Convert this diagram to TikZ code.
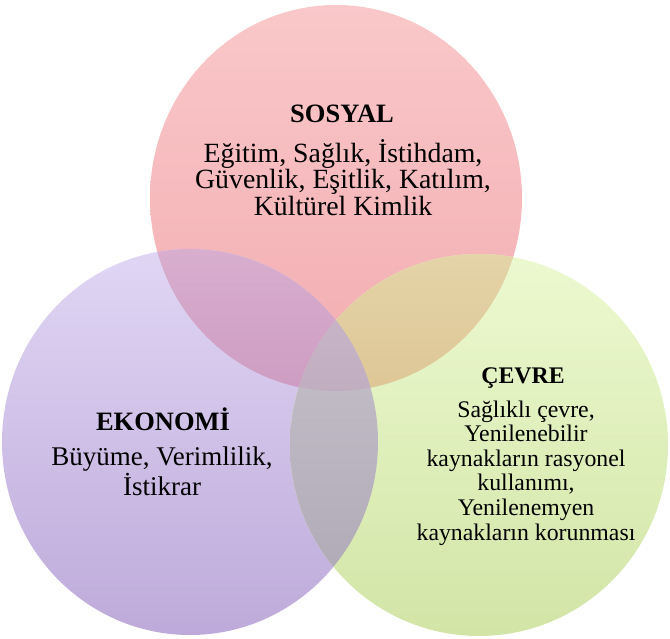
\documentclass[tikz,border=0pt]{standalone}
\usepackage{fontspec}
\setmainfont{Liberation Serif}
\definecolor{pinkTop}{RGB}{250,200,202}
\definecolor{pinkBot}{RGB}{242,172,176}
\definecolor{purpTop}{RGB}{224,214,244}
\definecolor{purpBot}{RGB}{190,170,218}
\definecolor{grnTop}{RGB}{236,249,208}
\definecolor{grnBot}{RGB}{210,229,166}
\definecolor{puTop}{RGB}{216,174,206}
\definecolor{puBot}{RGB}{206,156,194}
\definecolor{pgTop}{RGB}{228,212,168}
\definecolor{pgBot}{RGB}{222,198,150}
\definecolor{ugTop}{RGB}{200,194,204}
\definecolor{ugBot}{RGB}{172,166,180}
\definecolor{tTop}{RGB}{202,182,200}
\definecolor{tBot}{RGB}{192,174,192}
\def\pinkC{(336,198) ellipse [x radius=186, y radius=193]}
\def\purpC{(190,442) ellipse [x radius=188, y radius=193]}
\def\grnC{(479,445) ellipse [x radius=189, y radius=191]}
\begin{document}
\begin{tikzpicture}[x=1pt,y=-1pt,
  title/.style={font=\fontsize{26.5}{25}\selectfont\bfseries, anchor=base, inner sep=0pt},
  body/.style={anchor=base, align=center, inner sep=0pt}]
\useasboundingbox (0,0) rectangle (670,638);
\shade[top color=pinkTop, bottom color=pinkBot] \pinkC;
\shade[top color=purpTop, bottom color=purpBot] \purpC;
\shade[top color=grnTop, bottom color=grnBot] \grnC;
\begin{scope}
  \clip \pinkC;
  \clip \purpC;
  \shade[top color=puTop, bottom color=puBot] (0,248) rectangle (390,393);
\end{scope}
\begin{scope}
  \clip \pinkC;
  \clip \grnC;
  \shade[top color=pgTop, bottom color=pgBot] (285,252) rectangle (530,393);
\end{scope}
\begin{scope}
  \clip \purpC;
  \clip \grnC;
  \shade[top color=ugTop, bottom color=ugBot] (285,290) rectangle (385,637);
\end{scope}
\begin{scope}
  \clip \pinkC;
  \clip \purpC;
  \clip \grnC;
  \shade[top color=tTop, bottom color=tBot] (285,290) rectangle (385,393);
\end{scope}
\node[title] (sosyal) at (342,122) {SOSYAL};
\node[body, font=\fontsize{27.8}{26.5}\selectfont] (sosyalt) at (343,215) {Eğitim, Sağlık, İstihdam,\\Güvenlik, Eşitlik, Katılım,\\Kültürel Kimlik};
\node[title] (ekonomi) at (163,430) {EKONOMİ};
\node[body, font=\fontsize{27}{23.5}\selectfont] (ekonomit) at (162,495) {Büyüme, Verimlilik,\\İstikrar};
\node[title, font=\fontsize{23.8}{24}\selectfont\bfseries] (cevre) at (523,383) {ÇEVRE};
\node[body, font=\fontsize{23.8}{24.6}\selectfont] (cevret) at (526,540) {Sağlıklı çevre,\\Yenilenebilir\\kaynakların rasyonel\\kullanımı,\\Yenilenemyen\\kaynakların korunması};
\end{tikzpicture}
\end{document}
